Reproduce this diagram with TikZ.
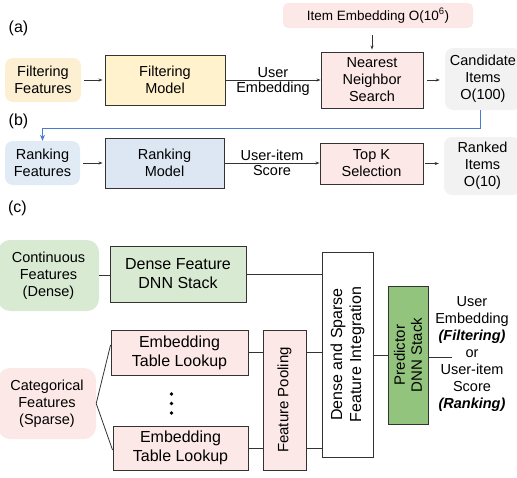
\documentclass[tikz,border=0pt]{standalone}
\usepackage{fontspec}
\setmainfont{Liberation Sans}
\usetikzlibrary{arrows.meta}
\definecolor{bord}{HTML}{333333}
\definecolor{yelA}{HTML}{FCEFD2}
\definecolor{yelB}{HTML}{FFF2CC}
\definecolor{pinkA}{HTML}{FCE8E6}
\definecolor{greyA}{HTML}{F2F2F2}
\definecolor{blueA}{HTML}{E1EBF6}
\definecolor{blueB}{HTML}{DCE7F3}
\definecolor{blueL}{HTML}{4A7BD0}
\definecolor{greenA}{HTML}{D9EAD3}
\definecolor{greenB}{HTML}{93C47D}
\tikzset{
  base/.style={inner sep=0pt, align=center, font=\fontsize{14.5}{17}\selectfont},
  soft/.style={base, rounded corners=8pt},
  hard/.style={base, draw=bord, line width=0.9pt},
  big/.style={font=\fontsize{16}{19}\selectfont},
  conn/.style={draw=bord, line width=0.8pt},
  arr/.style={conn, -{Stealth[length=4pt,width=3pt]}},
  lbl/.style={font=\fontsize{14.5}{17}\selectfont, inner sep=1.5pt},
  part/.style={font=\fontsize{16}{19}\selectfont, inner sep=0pt},
}
\begin{document}
\begin{tikzpicture}[x=1pt,y=-1pt]
\useasboundingbox (0,0) rectangle (517,477);
% ---------- (a) ----------
\node[part] (la) at (18.5,28) {(a)};
\node[soft, fill=yelA, minimum width=76pt, minimum height=44pt] (ff) at (43,80) {Filtering\\Features};
\node[hard, fill=yelB, minimum width=120pt, minimum height=50pt] (fm) at (165,80) {Filtering\\Model};
\node[soft, rounded corners=5pt, fill=pinkA, minimum width=190pt, minimum height=25pt, font=\fontsize{13.5}{16}\selectfont] (ie) at (378,15.5) {Item Embedding O(10\textsuperscript{6})};
\node[hard, fill=pinkA, minimum width=102pt, minimum height=56pt] (nn) at (372,80) {Nearest\\Neighbor\\Search};
\node[soft, fill=greyA, minimum width=76pt, minimum height=62pt] (ci) at (483,79) {Candidate\\Items\\O(100)};
\draw[arr, shorten <=3pt, shorten >=2pt] (ff.east) -- (fm.west |- ff.east);
\draw[arr] (fm.east) -- node[lbl, above] {User} node[lbl, below] {Embedding} (nn.west);
\draw[arr, shorten <=7pt, shorten >=2pt] (ie.south -| nn.north) -- (nn.north);
\draw[arr, shorten <=4pt, shorten >=5pt] (nn.east) -- (ci.west |- nn.east);
% ---------- (b) ----------
\node[part] (lb) at (18.5,121) {(b)};
\node[soft, fill=blueA, minimum width=75pt, minimum height=44pt] (rf) at (42.5,163) {Ranking\\Features};
\node[hard, fill=blueB, minimum width=119pt, minimum height=50pt] (rm) at (164.5,163) {Ranking\\Model};
\node[hard, fill=pinkA, minimum width=103pt, minimum height=41pt] (tk) at (371.5,163.5) {Top K\\Selection};
\node[soft, fill=greyA, minimum width=77pt, minimum height=58pt] (ri) at (482.5,166) {Ranked\\Items\\O(10)};
\coordinate (bc1) at (480,128);
\draw[draw=blueL, line width=1pt, -{Stealth[length=6pt,width=5pt]}] (ci.south -| bc1) -- (bc1) -- (bc1 -| rf.north) -- (rf.north);
\draw[arr, shorten <=3pt, shorten >=2pt] (rf.east) -- (rm.west |- rf.east);
\draw[arr] (rm.east) -- node[lbl, above] {User-item} node[lbl, below] {Score} (tk.west |- rm.east);
\draw[arr, shorten <=2pt, shorten >=5pt] (tk.east) -- (ri.west |- tk.east);
% ---------- (c) ----------
\node[part] (lc) at (17.5,208) {(c)};
\node[soft, rounded corners=12pt, fill=greenA, minimum width=101pt, minimum height=71pt] (cf) at (48.5,275.5) {Continuous\\Features\\(Dense)};
\node[hard, big, fill=greenA, minimum width=136pt, minimum height=56pt] (dd) at (178,274) {Dense Feature\\DNN Stack};
\node[soft, rounded corners=12pt, fill=pinkA, minimum width=98pt, minimum height=71pt] (cat) at (47,403.5) {Categorical\\Features\\(Sparse)};
\node[hard, big, fill=pinkA, minimum width=137pt, minimum height=45pt] (e1) at (179.5,352.5) {Embedding\\Table Lookup};
\node[hard, big, fill=pinkA, minimum width=135pt, minimum height=44pt] (e2) at (180.5,448) {Embedding\\Table Lookup};
\foreach \yy in {394,403.5,413} \fill[black] (171.5,\yy) circle (1.9pt);
\node[hard, fill=pinkA, minimum width=43pt, minimum height=140pt] (fp) at (284.5,400) {};
\node[base, rotate=90, font=\fontsize{15}{18}\selectfont] at (fp.center) {Feature Pooling};
\node[hard, fill=white, minimum width=51pt, minimum height=205pt] (di) at (347.5,354.5) {};
\node[base, big, rotate=90] at (di.center) {Dense and Sparse\\Feature Integration};
\node[hard, fill=greenB, minimum width=40pt, minimum height=138pt] (pr) at (408,355) {};
\node[base, rotate=90, font=\fontsize{15}{17}\selectfont] at (pr.center) {Predictor\\DNN Stack};
\node[lbl, align=center] (out) at (472,354) {User\\Embedding\\\textbf{\textit{(Filtering)}}\\or\\User-item\\Score\\\textbf{\textit{(Ranking)}}};
\coordinate (oe) at (452,357);
\draw[conn] (cf.east) -- (dd.west |- cf.east);
\draw[conn] (dd.east) -- (di.west |- dd.east);
\draw[conn] (cat.east) -- ([yshift=7.5pt]e1.west);
\draw[conn] (cat.east) -- ([yshift=-2pt]e2.west);
\draw[conn] (e1.east) -- (fp.west |- e1.east);
\draw[conn] (e2.east) -- (fp.west |- e2.east);
\draw[conn] (fp.east |- e1.east) -- (di.west |- e1.east);
\draw[conn] (fp.east |- e2.east) -- (di.west |- e2.east);
\draw[conn] (di.east |- pr.west) -- (pr.west);
\draw[conn] (pr.east |- oe) -- (oe);
\end{tikzpicture}
\end{document}
